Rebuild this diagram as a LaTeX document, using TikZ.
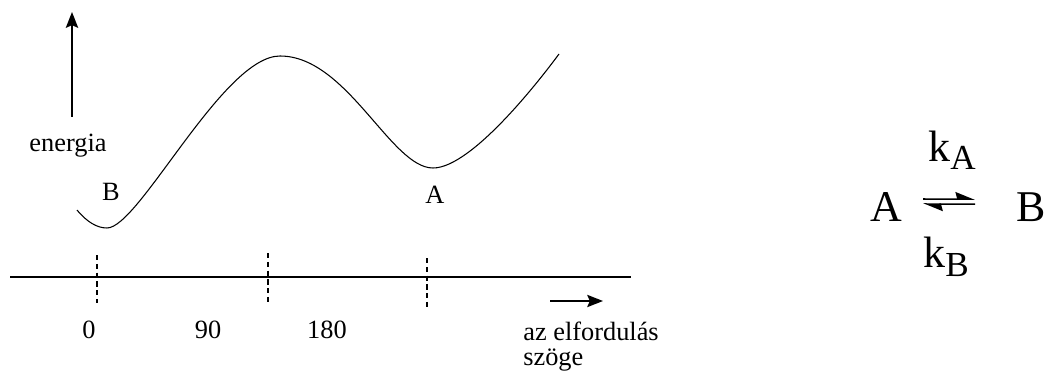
\documentclass[tikz,border=0pt]{standalone}
\usepackage{fontspec}
\setmainfont{Liberation Serif}
\usetikzlibrary{arrows.meta, positioning}
\newcommand{\kconst}[2][-4.5pt]{k\raisebox{#1}{\fontsize{20pt}{20pt}\selectfont #2}}

\begin{document}
\begin{tikzpicture}[x=0.02cm, y=-0.02cm,
    lbl/.style={font=\fontsize{15pt}{14pt}\selectfont, inner sep=0pt},
    big/.style={font=\fontsize{25pt}{25pt}\selectfont, inner sep=0pt},
    curve/.style={line width=0.6pt},
    angleaxis/.style={line width=1.6pt},
    tickline/.style={line width=1.3pt, dash pattern=on 3pt off 2pt},
    pointer/.style={-{Stealth[length=9pt, width=7pt, inset=1.5pt]}},
    harpoon/.style={line width=0.9pt, -{Stealth[left, length=10pt, width=8pt, inset=1pt]}}]

    \useasboundingbox (0,0) rectangle (1047,371);

    % energy curve
    \node [lbl, anchor=base] (energia) at (68,152) {energia};
    \coordinate (etop) at (72,12);
    \coordinate (ebot) at (72,117);
    \draw [pointer, line width=1.1pt] (ebot) -- (etop);

    \draw [curve] (77,210) .. controls (87,222) and (97,228) .. (107,228)
        .. controls (139,228) and (223,56) .. (280,56)
        .. controls (347,56) and (391,168) .. (433,168)
        .. controls (473,168) and (545,73) .. (559,54);
    \node [lbl, anchor=base] (minB) at (111,200) {B};
    \node [lbl, anchor=base] (minA) at (435,203) {A};

    % angle axis
    \draw [angleaxis] (10,277) -- (631,277);
    \foreach \x/\t/\b in {97/255/303, 268/253/303, 427/258/308}
        \draw [tickline] (\x,\t) -- (\x,\b);
    \node [lbl, anchor=base] (deg0) at (89,338) {0};
    \node [lbl, anchor=base] (deg90) at (208,338) {90};
    \node [lbl, anchor=base] (deg180) at (327,338) {180};

    \coordinate (atail) at (550,301);
    \coordinate (ahead) at (603,301);
    \draw [pointer, line width=0.8pt] (atail) -- (ahead);
    \node [lbl, anchor=north west, align=left] (angle) at (523,322) {az elfordulás\\szöge};

    % equilibrium
    \node [big, anchor=base] (eqA) at (886,221) {A};
    \node [big, anchor=base] (eqB) at (1031,221) {B};
    \node [big, anchor=base west] (kA) at (928,162) {\kconst{A}};
    \node [big, anchor=base west] (kB) at (923,267) {\kconst[-5.5pt]{B}};

    \draw [harpoon, shorten <=0.42cm, shorten >=0.82cm] ([yshift=0.15cm]eqA.east) -- ([yshift=0.15cm]eqB.west);
    \draw [harpoon, shorten <=0.82cm, shorten >=0.42cm] ([yshift=0.05cm]eqB.west) -- ([yshift=0.05cm]eqA.east);

\end{tikzpicture}
\end{document}
